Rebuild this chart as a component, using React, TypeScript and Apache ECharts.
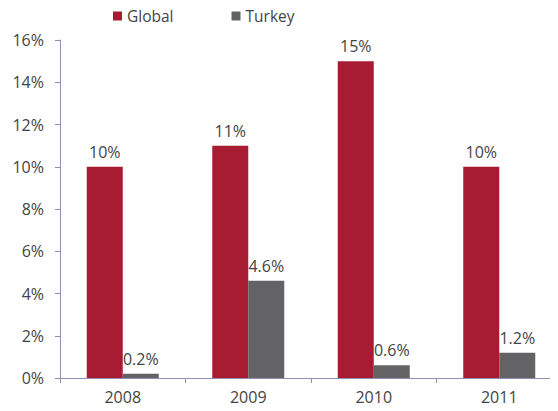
import React, { useEffect, useRef } from "react";
import * as echarts from "echarts";

const categories = ["2008", "2009", "2010", "2011"];
const globalValues = [10, 11, 15, 10];
const turkeyValues = [0.2, 4.6, 0.6, 1.2];
const globalLabels = ["10%", "11%", "15%", "10%"];
const turkeyLabels = ["0.2%", "4.6%", "0.6%", "1.2%"];

export default function App() {
  const ref = useRef<HTMLDivElement>(null);
  useEffect(() => {
    const chart = echarts.init(ref.current!, null, { renderer: "svg" });
    const font = "'Open Sans', sans-serif";
    const axisColor = "#8f8fb0";
    const textColor = "#444444";
    chart.setOption({
      animation: false,
      legend: {
        top: 3,
        left: 108,
        itemWidth: 9,
        itemHeight: 9,
        itemGap: 58,
        icon: "rect",
        textStyle: { fontFamily: font, fontSize: 15.5, color: textColor },
        data: ["Global", "Turkey"],
      },
      grid: { left: 60, top: 40, bottom: 33, right: 8, containLabel: false },
      xAxis: {
        type: "category",
        data: categories,
        axisLine: { lineStyle: { color: axisColor, width: 1 } },
        axisTick: { show: true, length: 5, lineStyle: { color: axisColor } },
        axisLabel: { fontFamily: font, fontSize: 16, color: textColor, margin: 11 },
      },
      yAxis: {
        type: "value",
        min: 0,
        max: 16,
        interval: 2,
        splitLine: { show: false },
        axisLine: { show: true, lineStyle: { color: axisColor, width: 1 } },
        axisTick: { show: true, length: 5, lineStyle: { color: axisColor } },
        axisLabel: {
          fontFamily: font,
          fontSize: 16,
          color: textColor,
          margin: 16,
          formatter: (v: number) => v + "%",
        },
      },
      series: [
        {
          name: "Global",
          type: "bar",
          barWidth: 36,
          barGap: "0%",
          itemStyle: { color: "#A71C33" },
          label: {
            show: true,
            position: "top",
            distance: 7,
            fontFamily: font,
            fontSize: 16,
            color: textColor,
            formatter: (p: any) => globalLabels[p.dataIndex],
          },
          data: globalValues,
        },
        {
          name: "Turkey",
          type: "bar",
          barWidth: 36,
          itemStyle: { color: "#636366" },
          label: {
            show: true,
            position: "top",
            distance: 7,
            fontFamily: font,
            fontSize: 16,
            color: textColor,
            formatter: (p: any) => turkeyLabels[p.dataIndex],
          },
          data: turkeyValues,
        },
      ],
    });
    return () => chart.dispose();
  }, []);
  return (
    <div style={{ width: 558, height: 411, margin: -8, overflow: "hidden", position: "relative" }}>
      <div ref={ref} style={{ width: 570, height: 411 }} />
    </div>
  );
}
